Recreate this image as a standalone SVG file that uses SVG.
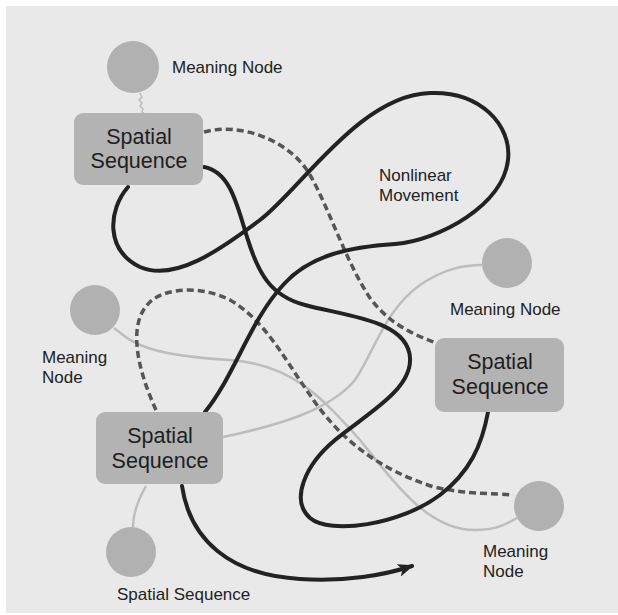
<svg xmlns="http://www.w3.org/2000/svg" width="618" height="615" viewBox="0 0 618 615">
  <defs>
    <marker id="arrow" viewBox="0 0 16 13" refX="14" refY="6.5" markerWidth="16" markerHeight="13" markerUnits="userSpaceOnUse" orient="auto">
      <path d="M0,0 L16,6.5 L0,13 L4,6.5 Z" fill="#222"/>
    </marker>
    <style>
      .bg { fill: #e9e9e9; }
      .box { fill: #b3b3b3; }
      .circ { fill: #b1b1b1; }
      .move { fill: none; stroke: #222; stroke-width: 4; stroke-linecap: round; }
      .dash { fill: none; stroke: #555; stroke-width: 3.5; stroke-dasharray: 7 4; }
      .light { fill: none; stroke: #bdbdbd; stroke-width: 2.5; }
      .lbl { font-family: "Liberation Sans", Arial, sans-serif; font-size: 17px; fill: #222; }
      .btxt { font-family: "Liberation Sans", Arial, sans-serif; font-size: 21.5px; fill: #1e1e1e; text-anchor: middle; }
    </style>
  </defs>
  <rect x="0" y="0" width="618" height="615" fill="#ffffff"/>
  <rect class="bg" x="6" y="6" width="612" height="607"/>

  <g id="connectors">
    <path class="light" d="M 114 328 C 130 340, 140 355, 230 360 C 290 364, 320 395, 360 440 C 400 490, 430 530, 475 530 C 495 530, 505 525, 517 518"/>
    <path class="light" d="M 223 437 C 280 425, 330 410, 355 380 C 375 350, 385 310, 420 285 C 445 268, 465 265, 482 265"/>
    <path class="light" d="M 146 486 C 138 500, 133 512, 133 527"/>
    <path fill="none" stroke="#bdbdbd" stroke-width="1.5" d="M 140 93 l 2 4 l -3 3 l 3 3 l -2 3 l 3 3 l -1 3 l 3 2"/>
    <path class="dash" d="M 204 132 C 240 122, 290 140, 310 175 C 330 210, 345 260, 370 298 C 390 325, 415 335, 436 343"/>
    <path class="dash" d="M 156 410 C 140 375, 125 325, 150 302 C 165 288, 200 285, 230 300 C 265 320, 285 360, 310 395 C 340 440, 380 470, 434 487 C 470 495, 495 493, 513 495"/>
    <path class="move" d="M 204 167 C 232 172, 238 210, 248 240 C 258 272, 270 296, 305 305 C 345 316, 408 320, 410 358 C 412 390, 365 415, 335 440 C 305 465, 290 500, 310 518 C 330 535, 400 525, 440 495 C 470 472, 482 445, 488 412"/>
    <path class="move" d="M 128 187 C 108 210, 105 250, 140 267 C 175 282, 220 250, 260 220 C 300 190, 360 95, 430 93 C 480 91, 512 125, 508 160 C 503 205, 440 240, 395 244 C 350 247, 310 255, 284 284 C 250 320, 235 375, 205 412"/>
    <path class="move" marker-end="url(#arrow)" d="M 182 486 C 190 540, 230 575, 300 579 C 345 582, 385 575, 412 566"/>
  </g>

  <g id="meaning-top">
    <circle class="circ" cx="133" cy="67" r="26"/>
    <text class="lbl" x="172" y="73">Meaning Node</text>
  </g>
  <g id="spatial-top-left">
    <rect class="box" x="74" y="113" width="129" height="72" rx="9"/>
    <text class="btxt" x="139" y="144">Spatial</text>
    <text class="btxt" x="139" y="168">Sequence</text>
  </g>
  <g id="nonlinear-label">
    <text class="lbl" x="379" y="181">Nonlinear</text>
    <text class="lbl" x="379" y="201">Movement</text>
  </g>
  <g id="meaning-mid-left">
    <circle class="circ" cx="95" cy="310" r="25"/>
    <text class="lbl" x="42" y="363">Meaning</text>
    <text class="lbl" x="42" y="383">Node</text>
  </g>
  <g id="meaning-top-right">
    <circle class="circ" cx="507" cy="263" r="25"/>
    <text class="lbl" x="450" y="315">Meaning Node</text>
  </g>
  <g id="spatial-right">
    <rect class="box" x="435" y="338" width="129" height="74" rx="9"/>
    <text class="btxt" x="500" y="369">Spatial</text>
    <text class="btxt" x="500" y="394">Sequence</text>
  </g>
  <g id="spatial-bottom-left">
    <rect class="box" x="96" y="412" width="127" height="72" rx="9"/>
    <text class="btxt" x="160" y="443">Spatial</text>
    <text class="btxt" x="160" y="468">Sequence</text>
  </g>
  <g id="meaning-bottom-right">
    <circle class="circ" cx="539" cy="506" r="25"/>
    <text class="lbl" x="483" y="557">Meaning</text>
    <text class="lbl" x="483" y="577">Node</text>
  </g>
  <g id="spatial-bottom">
    <circle class="circ" cx="131" cy="552" r="25"/>
    <text class="lbl" x="117" y="600">Spatial Sequence</text>
  </g>
</svg>
